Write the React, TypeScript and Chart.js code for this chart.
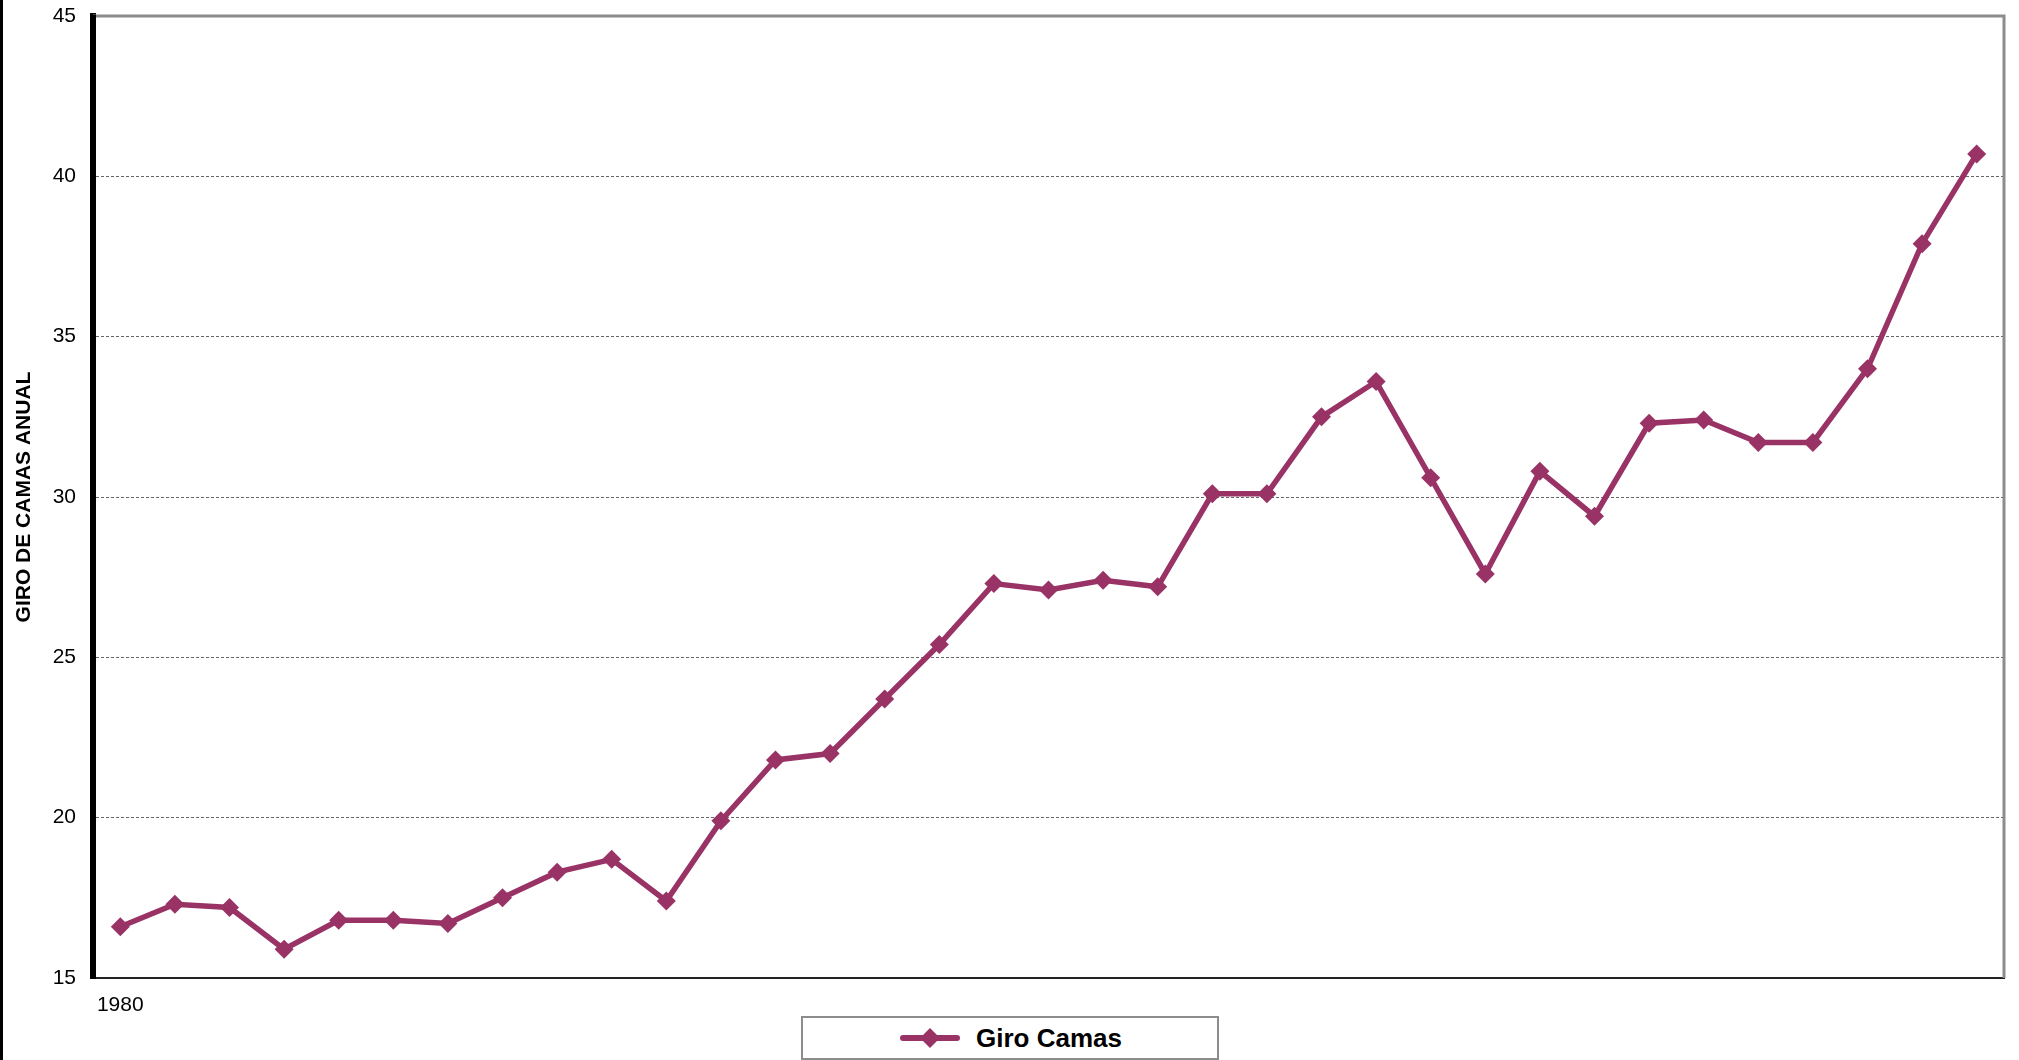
import React, { useEffect, useRef } from "react";
import { Chart, registerables } from "chart.js";

Chart.register(...registerables);

const years: string[] = [
  "1980", "1981", "1982", "1983", "1984", "1985", "1986", "1987", "1988", "1989",
  "1990", "1991", "1992", "1993", "1994", "1995", "1996", "1997", "1998", "1999",
  "2000", "2001", "2002", "2003", "2004", "2005", "2006", "2007", "2008", "2009",
  "2010", "2011", "2012", "2013", "2014",
];

const giroCamas: number[] = [
  16.6, 17.3, 17.2, 15.9, 16.8, 16.8, 16.7, 17.5, 18.3, 18.7,
  17.4, 19.9, 21.8, 22.0, 23.7, 25.4, 27.3, 27.1, 27.4, 27.2,
  30.1, 30.1, 32.5, 33.6, 30.6, 27.6, 30.8, 29.4, 32.3, 32.4,
  31.7, 31.7, 34.0, 37.9, 40.7,
];

const seriesLabel = "Giro Camas";
const yTitle = "GIRO DE CAMAS ANUAL";
const shownXLabels: string[] = ["1980"];

const LINE_COLOR = "#993366";
const FONT = "'Liberation Sans', Arial, sans-serif";

const framePlugin = {
  id: "frame",
  afterDraw(chart: any) {
    const { ctx, chartArea } = chart;
    ctx.save();
    ctx.fillStyle = "#000";
    ctx.fillRect(0, 0, 3, chart.height);
    ctx.strokeStyle = "#8c8c8c";
    ctx.lineWidth = 3;
    ctx.setLineDash([]);
    ctx.beginPath();
    ctx.moveTo(chartArea.left, chartArea.top);
    ctx.lineTo(chartArea.right, chartArea.top);
    ctx.lineTo(chartArea.right, chartArea.bottom);
    ctx.stroke();
    ctx.fillStyle = "#000";
    ctx.fillRect(chartArea.left - 3, chartArea.top - 1, 6, chartArea.bottom - chartArea.top + 2);
    ctx.restore();
  },
};

export default function App() {
  const canvasRef = useRef<HTMLCanvasElement | null>(null);

  useEffect(() => {
    document.body.style.margin = "0";
    const canvas = canvasRef.current;
    if (!canvas) return;
    const chart = new Chart(canvas, {
      type: "line",
      data: {
        labels: years,
        datasets: [
          {
            label: seriesLabel,
            data: giroCamas,
            borderColor: LINE_COLOR,
            backgroundColor: LINE_COLOR,
            borderWidth: 5.5,
            pointStyle: "rectRot",
            pointRadius: 9.5,
            pointBorderWidth: 0,
            pointBackgroundColor: LINE_COLOR,
            tension: 0,
          },
        ],
      },
      options: {
        responsive: false,
        maintainAspectRatio: false,
        animation: false,
        layout: { autoPadding: false, padding: { left: 0, right: 15, top: 16, bottom: 0 } },
        plugins: {
          legend: { display: false },
          title: { display: false },
          tooltip: { enabled: false },
        },
        scales: {
          x: {
            type: "category",
            offset: true,
            grid: { display: false, drawTicks: false },
            border: { display: true, color: "#222", width: 2 },
            ticks: {
              autoSkip: false,
              maxRotation: 0,
              padding: 15,
              color: "#000",
              font: { family: FONT, size: 21 },
              callback: function (this: any, value: any, index: number) {
                const lab = years[index];
                return shownXLabels.includes(lab) ? lab : "";
              },
            },
            afterFit: (scale: any) => {
              scale.height = 82;
              scale.paddingLeft = 0;
              scale.paddingRight = 0;
            },
          },
          y: {
            min: 15,
            max: 45,
            ticks: {
              stepSize: 5,
              padding: 17,
              color: "#000",
              font: { family: FONT, size: 21 },
            },
            grid: {
              drawTicks: false,
              color: (ctx: any) =>
                ctx.tick && (ctx.tick.value === 15 || ctx.tick.value === 45)
                  ? "rgba(0,0,0,0)"
                  : "#666",
              lineWidth: 1,
            },
            border: { display: true, color: "#000", width: 6, dash: [3, 2] },
            title: {
              display: true,
              text: yTitle,
              color: "#000",
              font: { family: FONT, size: 21, weight: "bold" },
              padding: { top: 12, bottom: 0 },
            },
            afterFit: (scale: any) => {
              scale.width = 93;
              scale.paddingTop = 0;
              scale.paddingBottom = 0;
            },
          },
        },
      },
      plugins: [framePlugin],
    } as any);
    return () => chart.destroy();
  }, []);

  return (
    <div style={{ position: "relative", width: 2019, height: 1060, background: "#fff" }}>
      <canvas ref={canvasRef} width={2019} height={1060} style={{ display: "block", width: 2019, height: 1060 }} />
      <div
        style={{
          position: "absolute",
          left: 801,
          top: 1016,
          width: 414,
          height: 40,
          border: "2px solid #8c8c8c",
          background: "#fff",
          display: "flex",
          alignItems: "center",
          boxSizing: "content-box",
        }}
      >
        <svg width={60} height={24} style={{ marginLeft: 97 }}>
          <line x1={3} y1={12} x2={57} y2={12} stroke={LINE_COLOR} strokeWidth={6} strokeLinecap="round" />
          <polygon points="30,2 40,12 30,22 20,12" fill={LINE_COLOR} />
        </svg>
        <span
          style={{
            marginLeft: 16,
            fontFamily: FONT,
            fontWeight: "bold",
            fontSize: 26,
            color: "#000",
          }}
        >
          {seriesLabel}
        </span>
      </div>
    </div>
  );
}
